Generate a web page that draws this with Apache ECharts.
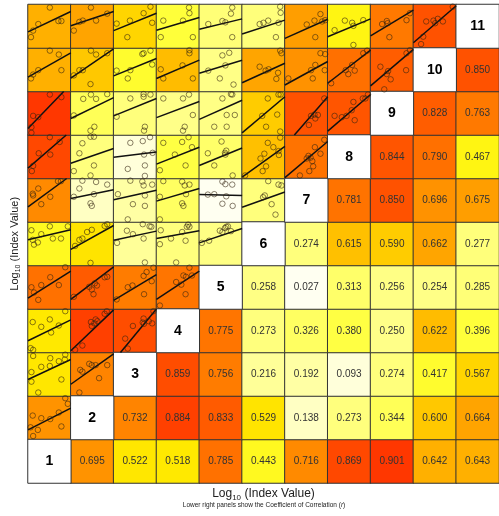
<!DOCTYPE html>
<html>
<head>
<meta charset="utf-8">
<script src="https://cdn.jsdelivr.net/npm/echarts@6/dist/echarts.min.js"></script>
<style>
html,body{margin:0;padding:0;background:#fff;}
#chart{width:499px;height:516px;}
</style>
</head>
<body>
<div id="chart"></div>
<script>
// Variable labels (diagonal)
const variables = ['1','2','3','4','5','6','7','8','9','10','11'];

// Correlation coefficients: row r vs columns r+1..11
const corrRow1  = [0.695, 0.522, 0.518, 0.785, 0.443, 0.716, 0.869, 0.901, 0.642, 0.643];
const corrRow2  = [0.732, 0.884, 0.833, 0.529, 0.138, 0.273, 0.344, 0.600, 0.664];
const corrRow3  = [0.859, 0.756, 0.216, 0.192, 0.093, 0.274, 0.417, 0.567];
const corrRow4  = [0.775, 0.273, 0.326, 0.380, 0.250, 0.622, 0.396];
const corrRow5  = [0.258, 0.027, 0.313, 0.256, 0.254, 0.285];
const corrRow6  = [0.274, 0.615, 0.590, 0.662, 0.277];
const corrRow7  = [0.781, 0.850, 0.696, 0.675];
const corrRow8  = [0.844, 0.790, 0.467];
const corrRow9  = [0.828, 0.763];
const corrRow10 = [0.850];

// Scatter panels (row r, columns 1..r-1): points in panel units (0-100)
const pointsRow2 = [
  [[87,95],[93,82],[72,62],[52,47],[31,49],[11,55],[78,30],[23,22],[6,28],[12,8]]
];
const pointsRow3 = [
  [[12,92],[52,87],[87,95],[86,84],[31,67],[51,69],[8,33],[78,38],[24,8],[72,80],[8,55]],
  [[43,74],[49,71],[58,71],[85,71],[27,56],[66,41],[20,8],[22,60]]
];
const pointsRow4 = [
  [[87,95],[51,76],[11,70],[31,59],[72,62],[54,46],[6,10],[12,6]],
  [[84,95],[79,89],[62,72],[55,67],[47,70],[58,76],[49,61],[27,16],[10,6]],
  [[93,95],[70,78],[68,69],[71,66],[90,67],[82,72],[45,61],[27,32],[33,9]]
];
const pointsRow5 = [
  [[87,96],[52,73],[72,55],[31,55],[8,50],[14,38],[24,21]],
  [[85,74],[79,73],[56,59],[61,54],[43,51],[49,45],[53,34],[7,28]],
  [[93,95],[77,85],[70,76],[89,64],[44,54],[33,50],[71,34],[7,22]],
  [[77,95],[63,77],[83,77],[69,74],[46,62],[58,56],[68,34],[8,8]]
];
const pointsRow6 = [
  [[8,81],[51,90],[93,90],[31,72],[11,59],[23,53],[14,48],[77,62],[58,62]],
  [[79,91],[85,95],[49,82],[38,77],[27,62],[20,59],[10,45],[46,6]],
  [[31,80],[45,72],[68,95],[84,90],[88,89],[70,62],[8,52],[73,7]],
  [[10,81],[60,77],[74,94],[77,89],[71,89],[34,62],[68,57],[8,49],[46,7]],
  [[48,80],[54,77],[60,86],[63,89],[67,90],[74,79],[23,57],[6,52]]
];
const pointsRow7 = [
  [[24,77],[11,65],[12,61],[52,58],[31,41],[70,94],[77,94]],
  [[27,95],[59,92],[85,86],[20,77],[7,58],[54,64],[46,43],[49,37]],
  [[39,95],[67,93],[70,84],[90,86],[10,64],[73,61],[45,41],[73,37],[33,6]],
  [[16,94],[60,93],[66,84],[77,86],[8,58],[69,64],[60,43],[63,37],[8,6]],
  [[54,93],[61,87],[77,86],[35,64],[63,59],[54,42],[78,37],[20,63]],
  [[61,94],[85,86],[92,84],[53,61],[49,57],[69,41],[78,17]]
];
const pointsRow8 = [
  [[51,95],[74,84],[25,58],[52,55],[12,29],[9,17]],
  [[46,96],[27,81],[54,96],[20,58],[54,30],[46,7],[7,17]],
  [[39,82],[68,86],[85,95],[91,59],[71,55],[33,22],[73,30],[73,6]],
  [[16,82],[75,95],[60,84],[83,72],[43,55],[68,30],[8,19]],
  [[20,58],[60,59],[61,55],[63,64],[52,85],[35,30],[78,7]],
  [[89,94],[60,82],[73,72],[85,63],[86,54],[52,57],[43,46],[56,28],[48,17],[7,7]],
  [[92,89],[70,72],[83,57],[55,52],[51,46],[64,40],[60,48],[66,28],[57,17],[35,7]]
];
const pointsRow9 = [
  [[51,93],[78,87],[12,44],[24,41],[8,18],[8,5]],
  [[47,93],[29,83],[59,83],[85,94],[7,45],[55,19],[46,10]],
  [[39,84],[70,94],[70,88],[86,93],[7,42],[73,19],[71,10]],
  [[16,84],[62,84],[76,93],[85,46],[66,19],[62,10]],
  [[54,84],[74,94],[77,93],[64,46],[83,46],[35,19],[64,19]],
  [[60,84],[85,93],[90,93],[82,47],[47,44],[56,19],[89,8]],
  [[92,84],[69,47],[77,46],[61,44],[71,38],[56,23]],
  [[88,84],[82,84],[94,93],[60,76],[56,57],[44,44],[33,41],[16,44],[63,34]]
];
const pointsRow10 = [
  [[51,94],[72,85],[78,49],[24,49],[12,39],[7,30]],
  [[47,94],[59,85],[85,88],[20,49],[28,49],[7,37],[46,17]],
  [[86,94],[67,86],[70,88],[90,62],[39,49],[7,48],[33,30]],
  [[77,95],[77,88],[61,60],[10,51],[16,30],[85,30]],
  [[70,89],[54,83],[61,60],[21,48],[48,30],[80,16]],
  [[89,94],[92,88],[41,57],[62,51],[55,48],[84,43],[80,29]],
  [[83,88],[94,86],[93,49],[71,61],[61,49],[65,30],[8,30]],
  [[92,94],[83,88],[57,61],[63,48],[42,49],[48,40],[8,19]],
  [[92,95],[84,88],[23,57],[41,47],[38,40],[47,28],[83,49],[32,5]]
];
const pointsRow11 = [
  [[51,93],[24,55],[71,62],[78,62],[12,40],[7,25]],
  [[47,93],[28,63],[20,60],[59,63],[85,79],[7,40]],
  [[86,95],[70,80],[38,63],[90,58],[7,56],[32,25]],
  [[76,93],[77,80],[16,63],[62,63],[10,25],[85,25]],
  [[77,93],[74,79],[21,55],[54,62],[61,59],[77,25]],
  [[89,95],[90,81],[61,63],[50,58],[41,55],[85,58],[79,25]],
  [[83,78],[69,63],[51,54],[94,64],[87,61],[71,25]],
  [[40,63],[57,58],[60,51],[83,64],[16,41],[60,7]],
  [[27,55],[38,62],[40,57],[92,80],[84,64],[44,25]],
  [[30,61],[47,63],[51,57],[57,67],[69,61],[92,95],[23,26],[18,9]]
];

// Regression lines per panel: [value at left edge, value at right edge]
const fitsRow2  = [[22,72]];
const fitsRow3  = [[38,84],[27,97]];
const fitsRow4  = [[27,75],[4,98],[-19,100]];
const fitsRow5  = [[25,87],[22,97],[20,79],[22,87]];
const fitsRow6  = [[59,82],[37,92],[58,79],[62,80],[52,85]];
const fitsRow7  = [[35,107],[54,74],[51,73],[48,77],[63,61],[34,69]];
const fitsRow8  = [[24,109],[35,69],[49,61],[33,72],[30,70],[3,74],[2,85]];
const fitsRow9  = [[15,117],[38,86],[44,84],[40,77],[36,80],[5,88],[-25,88],[9,93]];
const fitsRow10 = [[33,89],[31,98],[36,76],[30,72],[42,72],[20,65],[15,69],[19,95],[13,97]];
const fitsRow11 = [[37,84],[51,84],[40,80],[41,70],[43,67],[32,64],[22,66],[26,67],[28,87],[12,97]];

// ---- assemble ----
const corrRows = [corrRow1,corrRow2,corrRow3,corrRow4,corrRow5,corrRow6,corrRow7,corrRow8,corrRow9,corrRow10];
const pointRows = [null,null,pointsRow2,pointsRow3,pointsRow4,pointsRow5,pointsRow6,pointsRow7,pointsRow8,pointsRow9,pointsRow10,pointsRow11];
const fitRows = [null,null,fitsRow2,fitsRow3,fitsRow4,fitsRow5,fitsRow6,fitsRow7,fitsRow8,fitsRow9,fitsRow10,fitsRow11];

const corrCells = [];
corrRows.forEach((vals, i) => {
  const r = i + 1;
  vals.forEach((v, k) => {
    const c = r + 1 + k;
    corrCells.push({ value: [c - 1, r - 1, v] });                       // text cell
    corrCells.push({ value: [r - 1, c - 1, v], label: { show: false } }); // scatter panel background
  });
});
const diagCells = variables.map((v, i) => [i, i, v]);

const scatterData = [];
const lineData = [];
for (let r = 2; r <= 11; r++) {
  pointRows[r].forEach((pts, ci) => {
    const c = ci + 1;
    pts.forEach(p => scatterData.push([(c - 1) * 100 + p[0], (r - 1) * 100 + p[1]]));
  });
  fitRows[r].forEach((f, ci) => {
    const c = ci + 1;
    let yl = f[0], yr = f[1];
    let x0 = 0, y0 = yl, x1 = 100, y1 = yr;
    if (yr > 100) { x1 = (100 - yl) / (yr - yl) * 100; y1 = 100; }
    if (yl < 0) { x0 = (0 - yl) / (yr - yl) * 100; y0 = 0; }
    lineData.push({ coords: [[(c - 1) * 100 + x0, (r - 1) * 100 + y0], [(c - 1) * 100 + x1, (r - 1) * 100 + y1]] });
  });
}

const FONT = 'Liberation Sans, Arial, sans-serif';
const gridRect = { left: 28, top: 4.5, width: 478.5, height: 478.5 };

const chart = echarts.init(document.getElementById('chart'), null, { renderer: 'canvas' });
chart.setOption({
  animation: false,
  backgroundColor: '#fff',
  textStyle: { fontFamily: FONT },
  grid: [
    Object.assign({ show: false, containLabel: false }, gridRect),
    Object.assign({ show: false, containLabel: false }, gridRect)
  ],
  xAxis: [
    {
      type: 'category', gridIndex: 0, data: variables,
      axisLine: { show: false }, axisTick: { show: false }, axisLabel: { show: false }, splitLine: { show: false },
      name: '{a|Log}{b|10}{a| (Index Value)}',
      nameLocation: 'middle', nameGap: 3,
      nameTextStyle: {
        fontFamily: FONT, color: '#222',
        rich: {
          a: { fontSize: 12, fontFamily: FONT, color: '#222' },
          b: { fontSize: 8, fontFamily: FONT, color: '#222', padding: [8, 0, 0, 0] }
        }
      }
    },
    { type: 'value', gridIndex: 1, min: 0, max: 1100, show: false }
  ],
  yAxis: [
    {
      type: 'category', gridIndex: 0, data: variables,
      axisLine: { show: false }, axisTick: { show: false }, axisLabel: { show: false }, splitLine: { show: false },
      name: '{a|Log}{b|10}{a| (Index Value)}',
      nameLocation: 'middle', nameGap: 6, nameRotate: 90,
      nameTextStyle: {
        fontFamily: FONT, color: '#222',
        rich: {
          a: { fontSize: 11, fontFamily: FONT, color: '#222' },
          b: { fontSize: 7, fontFamily: FONT, color: '#222', padding: [7, 0, 0, 0] }
        }
      }
    },
    { type: 'value', gridIndex: 1, min: 0, max: 1100, show: false }
  ],
  visualMap: {
    type: 'continuous', show: false, min: 0, max: 1, dimension: 2, seriesIndex: 0,
    inRange: {
      color: ['#FFFFFA', '#FFFFD8', '#FFFFA0', '#FFFF70', '#FFFF38', '#FFF000',
              '#FFC800', '#FF9000', '#FF6C00', '#FF3800', '#FF0000']
    }
  },
  series: [
    {
      type: 'heatmap', xAxisIndex: 0, yAxisIndex: 0, data: corrCells, silent: true,
      itemStyle: { borderColor: '#333', borderWidth: 1 },
      label: {
        show: true, fontFamily: FONT, fontSize: 10, color: '#333',
        formatter: p => p.value[2].toFixed(3)
      },
      emphasis: { disabled: true }
    },
    {
      type: 'heatmap', xAxisIndex: 0, yAxisIndex: 0, data: diagCells, silent: true,
      itemStyle: { color: '#fff', borderColor: '#333', borderWidth: 1 },
      label: {
        show: true, fontFamily: FONT, fontSize: 14, fontWeight: 'bold', color: '#000',
        formatter: p => p.value[2]
      },
      emphasis: { disabled: true }
    },
    {
      type: 'scatter', xAxisIndex: 1, yAxisIndex: 1, data: scatterData, silent: true,
      symbol: 'circle', symbolSize: 5.5,
      itemStyle: { color: 'rgba(0,0,0,0)', borderColor: 'rgba(50,35,15,0.8)', borderWidth: 0.9 },
      emphasis: { disabled: true }
    },
    {
      type: 'lines', coordinateSystem: 'cartesian2d', xAxisIndex: 1, yAxisIndex: 1,
      data: lineData, silent: true,
      lineStyle: { color: '#111', width: 1.5, opacity: 1, curveness: 0 }
    }
  ],
  graphic: [
    {
      type: 'text', x: 264, y: 505, silent: true,
      style: {
        text: '{a|Lower right panels show the Coefficient of Correlation (}{i|r}{a|)}',
        align: 'center', verticalAlign: 'middle',
        rich: {
          a: { fontSize: 6.5, fontFamily: FONT, fill: '#222' },
          i: { fontSize: 6.5, fontFamily: FONT, fontStyle: 'italic', fill: '#222' }
        }
      }
    }
  ]
});
</script>
</body>
</html>
